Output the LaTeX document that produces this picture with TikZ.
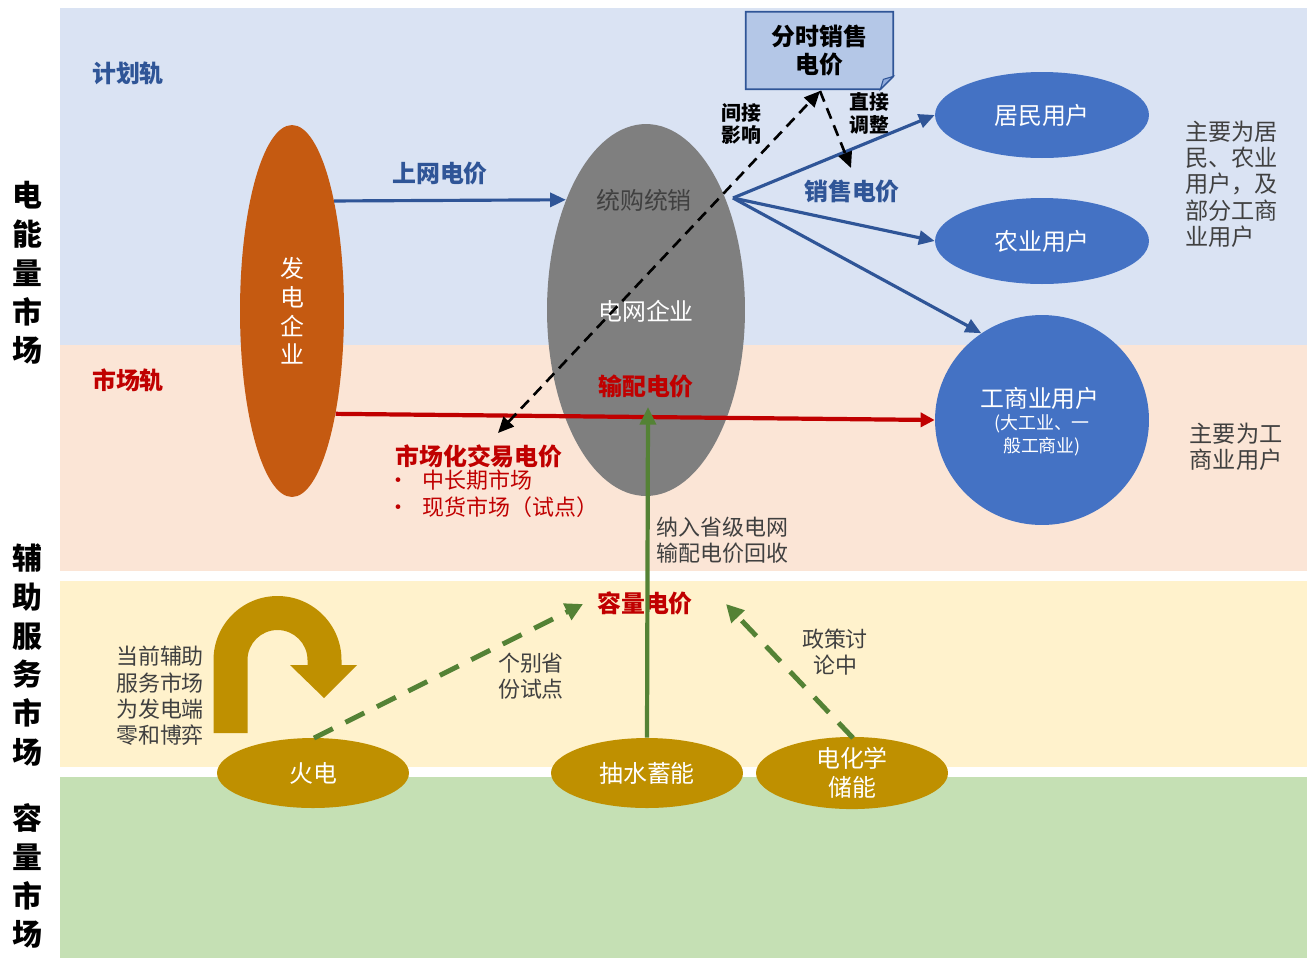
\documentclass[tikz,border=0pt]{standalone}
\usepackage{fontspec}
\setmainfont{Noto Sans CJK SC}
\usetikzlibrary{shapes.geometric,arrows.meta,calc}
\definecolor{bandblue}{HTML}{DAE3F3}
\definecolor{bandpeach}{HTML}{FBE5D6}
\definecolor{bandyellow}{HTML}{FFF2CC}
\definecolor{bandgreen}{HTML}{C5E0B4}
\definecolor{dkblue}{HTML}{2F5597}
\definecolor{dkred}{HTML}{C00000}
\definecolor{gencol}{HTML}{C55A11}
\definecolor{gridcol}{HTML}{7F7F7F}
\definecolor{usercol}{HTML}{4472C4}
\definecolor{goldcol}{HTML}{BF9000}
\definecolor{grncol}{HTML}{548235}
\definecolor{txtgray}{HTML}{404040}
\definecolor{boxfill}{HTML}{B4C7E7}
\definecolor{foldcol}{HTML}{8FAADC}
\newcommand\szBig{\fontsize{17}{22.1}\selectfont}
\newcommand\szA{\fontsize{13.6}{16.4}\selectfont}
\newcommand\szB{\fontsize{12.5}{15}\selectfont}
\newcommand\szR{\fontsize{13.2}{15}\selectfont}
\newcommand\szC{\fontsize{11.3}{13}\selectfont}
\newcommand\szD{\fontsize{10.2}{13}\selectfont}
\begin{document}
\begin{tikzpicture}[x=0.02cm,y=-0.02cm,
  ell/.style={ellipse,inner sep=0pt,text=white,align=center,font=\szA},
  userell/.style={ell,fill=usercol,minimum width=4.28cm,minimum height=1.72cm},
  goldell/.style={ell,fill=goldcol,minimum width=3.84cm,minimum height=1.4cm},
  sidelabel/.style={font=\szBig\bfseries,align=center,text=black},
  note/.style={font=\szB,text=txtgray,align=center},
  bluearrow/.style={draw=dkblue,line width=1.8pt,-{Triangle[length=9pt,width=8pt]}},
  blackdash/.style={draw=black,line width=1.5pt,dash pattern=on 6.5pt off 4pt},
  greendash/.style={draw=grncol,line width=2.8pt,dash pattern=on 12pt off 8pt,-{Triangle[length=10pt,width=10pt]}}
]
\useasboundingbox (0,0) rectangle (1307,958);
\fill[white] (0,0) rectangle (1307,958);
% bands
\fill[bandblue] (60,8) rectangle (1307,345);
\fill[bandpeach] (60,345) rectangle (1307,571);
\fill[bandyellow] (60,581) rectangle (1307,767);
\fill[bandgreen] (60,777) rectangle (1307,958);

% side labels
\node[sidelabel] (lab1) at (27,273) {电\\能\\量\\市\\场};
\node[sidelabel] (lab2) at (27,655) {辅\\助\\服\\务\\市\\场};
\node[sidelabel] (lab3) at (27,876) {容\\量\\市\\场};

\node[font=\szA\bfseries,text=dkblue] (plan) at (128,73) {计划轨};
\node[font=\szA\bfseries,text=dkred] (mkt) at (128,380) {市场轨};

% main ellipses
\node[ell,fill=gencol,minimum width=2.08cm,minimum height=7.44cm] (gen) at (292,311) {发\\电\\企\\业};
\node[ellipse,inner sep=0pt,fill=gridcol,minimum width=3.96cm,minimum height=7.44cm] (grid) at (646,310) {};
\node[font=\szA,text=txtgray] (tgtx) at (644,200) {统购统销};
\node[font=\szA,text=white] (gridtx) at (646,311) {电网企业};
\node[font=\szA\bfseries,text=dkred] (tdp) at (646,386) {输配电价};

\node[userell] (res) at (1042,115) {居民用户};
\node[userell] (agr) at (1042,241) {农业用户};
\node[ell,fill=usercol,minimum width=4.28cm,minimum height=4.2cm] (ind) at (1042,420) {};
\node[font=\szA,text=white] (indtx) at (1040,398) {工商业用户};
\node[font=\szD,text=white,align=center] (indsub) at (1042,435) {(大工业、一\\般工商业)};

% time-of-use box
\node[font=\szA\bfseries,align=center,minimum width=2.94cm,minimum height=1.54cm,inner sep=0pt] (tou) at (819.5,50.5) {分时销售\\电价};
\fill[boxfill,draw=dkblue,line width=1pt] (tou.north west) -- (tou.north east) -- ($(tou.south east)+(0,-13)$) -- ($(tou.south east)+(-13,0)$) -- (tou.south west) -- cycle;
\fill[foldcol,draw=dkblue,line width=0.6pt] ($(tou.south east)+(0,-13)$) -- ($(tou.south east)+(-13,0)$) -- ($(tou.south east)+(-10,-10)$) -- cycle;
\node[font=\szA\bfseries,align=center] (toutx) at (tou.center) {分时销售\\电价};

% gold ellipses
\node[goldell] (thermal) at (313,773) {火电};
\node[goldell] (pumped) at (647,773) {抽水蓄能};
\node[goldell] (echem) at (852,773) {电化学\\储能};

% labels
\node[font=\szA\bfseries,text=dkblue] (ongrid) at (440,173) {上网电价};
\node[font=\szA\bfseries,text=dkblue] (sale) at (852,191) {销售电价};
\node[font=\szC\bfseries,align=center] (indir) at (741,124) {间接\\影响};
\node[font=\szC\bfseries,align=center] (dir) at (869,113) {直接\\调整};
\node[font=\szA\bfseries,text=dkred] (cap) at (645,603) {容量电价};
\node[font=\szA\bfseries,text=dkred,anchor=west,inner sep=0pt] (mktp) at (395,456) {市场化交易电价};
\node[font=\szB,text=dkred,anchor=north west,align=left,inner sep=0pt] (mktlist) at (387,470) {\makebox[0.7cm][l]{•}中长期市场\\\makebox[0.7cm][l]{•}现货市场（试点）};

\node[font=\szR,text=txtgray,align=left,anchor=west] (rnote1) at (1179,184) {主要为居\\民、农业\\用户，及\\部分工商\\业用户};
\node[font=\szR,text=txtgray,align=left] (rnote2) at (1236,447) {主要为工\\商业用户};
\node[note,align=left,anchor=west] (tdnote) at (650,540) {纳入省级电网\\输配电价回收};
\node[note] (pilot) at (531,676) {个别省\\份试点};
\node[note] (policy) at (835,652) {政策讨\\论中};
\node[note] (ancnote) at (160,696) {当前辅助\\服务市场\\为发电端\\零和博弈};

% connectors
\draw[bluearrow] (gen.69) -- (grid.126.5);
\draw[draw=dkred,line width=2.4pt,-{Triangle[length=8pt,width=8pt]}] (gen.-67.5) -- (ind.west);
\coordinate (fan) at (733,198);
\draw[bluearrow] (fan) -- (res.west);
\draw[bluearrow] (fan) -- (agr.west);
\draw[bluearrow] (fan) -- (ind.125);

\coordinate (mkttip) at (498,433);
\coordinate (toutip) at (820,91);
\coordinate (saletip) at (851,168);
\draw[blackdash,{Triangle[length=9pt,width=8pt]}-{Triangle[length=9pt,width=8pt]}] (mkttip) -- (toutip);
\draw[blackdash,-{Triangle[length=9pt,width=8pt]}] (toutip) -- (saletip);

\coordinate (tdtip) at (648,407);
\draw[draw=grncol,line width=2.4pt,-{Triangle[length=10pt,width=9pt]}] (pumped.north) -- (tdtip);
\coordinate (captipL) at (583,604);
\coordinate (captipR) at (726,604);
\coordinate (thermtop) at (314,738);
\coordinate (echemtop) at (853,738);
\draw[greendash] (thermtop) -- (captipL);
\draw[greendash] (echemtop) -- (captipR);

% U-turn arrow
\fill[goldcol] (213.5,733) -- (213.5,660) arc[start angle=180,end angle=360,radius=64] -- (341.5,665) -- (357,665) -- (324,698) -- (290,665) -- (307.5,665) -- (307.5,660) arc[start angle=0,end angle=-180,radius=30] -- (247.5,733) -- cycle;
\end{tikzpicture}
\end{document}
